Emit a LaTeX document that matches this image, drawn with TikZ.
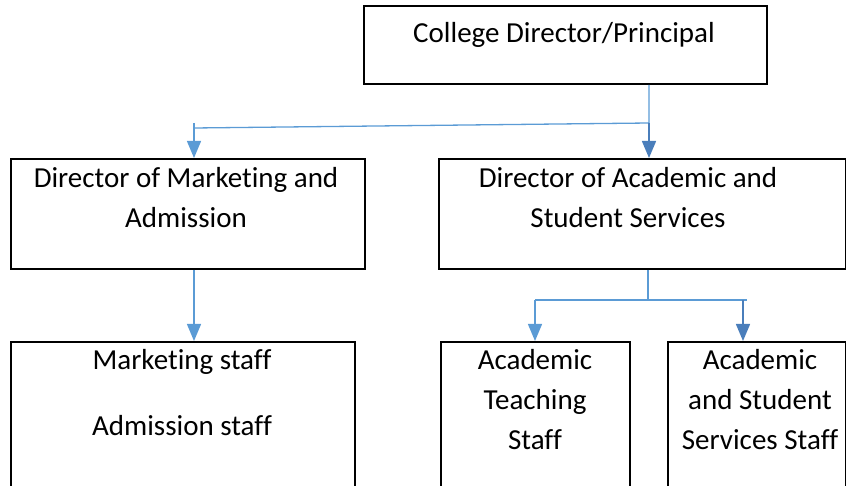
\documentclass[tikz,border=0pt]{standalone}
\usepackage{fontspec}
\setmainfont{Carlito}[Ligatures={NoCommon}]
\usetikzlibrary{arrows.meta}
\definecolor{lblue}{HTML}{5B9BD5}
\definecolor{dblue}{HTML}{4A7EBB}
\tikzset{
  box/.style={draw=black,line width=2pt,rectangle,anchor=north west,inner sep=0pt},
  txt/.style={anchor=base,inner sep=0pt,font=\fontsize{29}{35}\selectfont},
  conn/.style={draw=lblue,line width=1.3pt},
  larrow/.style={conn,-{Triangle[width=14pt,length=17pt]}},
  darrow/.style={draw=dblue,line width=1.5pt,-{Triangle[width=14pt,length=17pt]}},
}
\begin{document}
\begin{tikzpicture}[x=1pt,y=-1pt]
\useasboundingbox (0,0) rectangle (846,486);
\clip (0,0) rectangle (846,486);
% boxes
\node[box,minimum width=403pt,minimum height=78pt] (top) at (363,5) {};
\node[box,minimum width=354pt,minimum height=110pt] (dm) at (10,158) {};
\node[box,minimum width=407pt,minimum height=110pt] (da) at (438,158) {};
\node[box,minimum width=344pt,minimum height=160pt] (ms) at (10,341) {};
\node[box,minimum width=189pt,minimum height=160pt] (ats) at (440,341) {};
\node[box,minimum width=178pt,minimum height=160pt] (ass) at (667,341) {};
% texts
\node[txt] (t1) at (564,43) {College Director/Principal};
\node[txt] (t2a) at (186,188) {Director of Marketing and};
\node[txt] (t2b) at (186,228) {Admission};
\node[txt] (t3a) at (628,188) {Director of Academic and};
\node[txt] (t3b) at (628,228) {Student Services};
\node[txt] (t4a) at (182,369) {Marketing staff};
\node[txt] (t4b) at (182,435) {Admission staff};
\node[txt] (t5a) at (535,369) {Academic};
\node[txt] (t5b) at (535,409) {Teaching};
\node[txt] (t5c) at (535,449) {Staff};
\node[txt] (t6a) at (760,369) {Academic};
\node[txt] (t6b) at (760,409) {and Student};
\node[txt] (t6c) at (760,449) {Services Staff};
% connectors
\coordinate (j1) at (649,123);
\coordinate (j2) at (194,128);
\coordinate (j2t) at (194,123);
\draw[conn] (top.south -| j1) -- (j1) -- (j2);
\draw[larrow] (j2t) -- (j2t |- dm.north);
\draw[darrow] (j1) -- (j1 |- da.north);
\coordinate (k0) at (194,268);
\draw[larrow] (dm.south -| k0) -- (k0 |- ms.north);
\coordinate (m1) at (648,300);
\coordinate (m2) at (535,300);
\coordinate (m3) at (747,300);
\coordinate (m4) at (743,300);
\draw[conn] (da.south -| m1) -- (m1);
\draw[conn] (m2) -- (m3);
\draw[larrow] (m2) -- (m2 |- ats.north);
\draw[darrow] (m4) -- (m4 |- ass.north);
\end{tikzpicture}
\end{document}
